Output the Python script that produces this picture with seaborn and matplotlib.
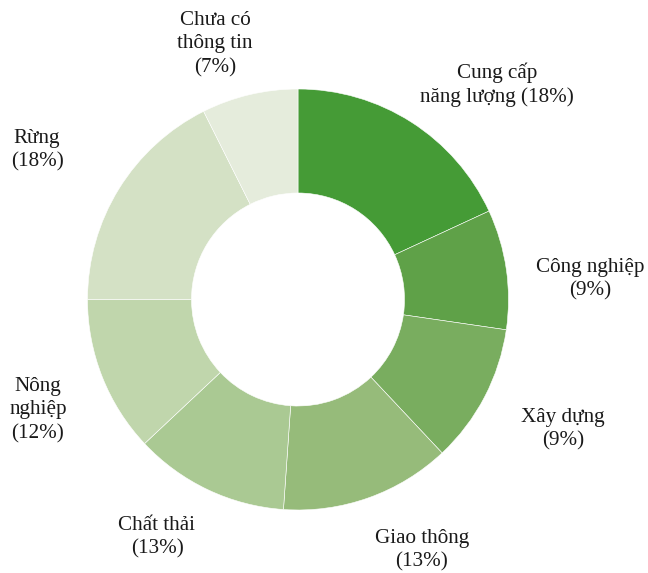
import matplotlib
matplotlib.use("Agg")
import matplotlib.pyplot as plt
import seaborn as sns

categories = ["Cung cấp\nnăng lượng", "Công nghiệp", "Xây dựng", "Giao thông",
              "Chất thải", "Nông\nnghiệp", "Rừng", "Chưa có\nthông tin"]
values = [18.1, 9.2, 10.7, 13.1, 11.9, 12.0, 17.6, 7.4]
pct_labels = ["18%", "9%", "9%", "13%", "13%", "12%", "18%", "7%"]
colors = ["#459b36", "#5fa148", "#79ad5f", "#96bb7a", "#aac993",
          "#c0d6ac", "#d4e1c5", "#e5ecdc"]

sns.set_theme(style="white")
plt.rcParams["font.family"] = ["Liberation Serif", "DejaVu Serif"]

W, H = 648, 573
fig = plt.figure(figsize=(W / 100, H / 100), dpi=100)
ax = fig.add_axes([0, 0, 1, 1])
cx, cy, R = 298, 299.5, 210.5
ax.pie(values, colors=colors, startangle=90, counterclock=False, radius=1,
       wedgeprops=dict(width=0.494, edgecolor="white", linewidth=0.4))
ax.set_xlim(-cx / R, (W - cx) / R)
ax.set_ylim(-(H - cy) / R, cy / R)
ax.set_aspect("auto")
ax.axis("off")

label_texts = [
    "Cung cấp\nnăng lượng (" + pct_labels[0] + ")",
    "Công nghiệp\n(" + pct_labels[1] + ")",
    "Xây dựng\n(" + pct_labels[2] + ")",
    "Giao thông\n(" + pct_labels[3] + ")",
    "Chất thải\n(" + pct_labels[4] + ")",
    "Nông\nnghiệp\n(" + pct_labels[5] + ")",
    "Rừng\n(" + pct_labels[6] + ")",
    "Chưa có\nthông tin\n(" + pct_labels[7] + ")",
]
label_pos = [(497, 85), (590, 279), (563, 429), (422, 550),
             (157, 537), (38, 410), (37, 150), (215, 44)]
for txt, (px, py) in zip(label_texts, label_pos):
    fig.text(px / W, 1 - py / H, txt, ha="center", va="center",
             fontsize=15.2, color="#1a1a1a", linespacing=1.32)

fig.savefig("out.png", dpi=100, facecolor="white")
